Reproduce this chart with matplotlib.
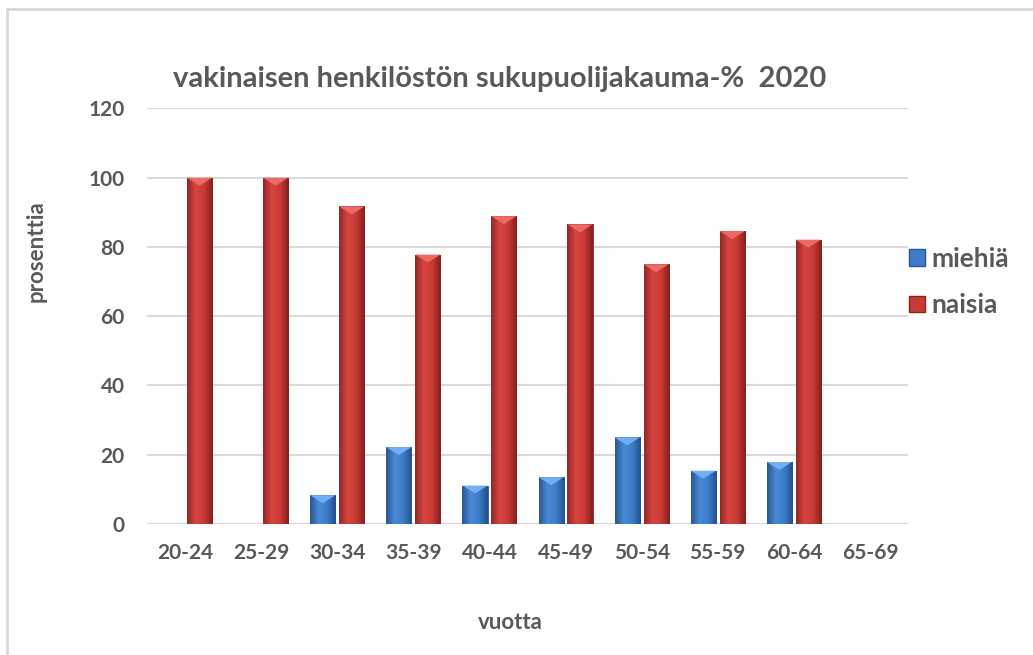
import numpy as np
import matplotlib.pyplot as plt
from matplotlib.patches import Patch, Polygon
from matplotlib.colors import LinearSegmentedColormap
from matplotlib.lines import Line2D

# Age groups and share (%) of permanent staff by gender
ages = ['20-24', '25-29', '30-34', '35-39', '40-44', '45-49',
        '50-54', '55-59', '60-64', '65-69']
miehia = [0, 0, 8.3, 22.2, 11.1, 13.5, 25.0, 15.4, 17.9, 0]
naisia = [100, 100, 91.7, 77.8, 88.9, 86.5, 75.0, 84.6, 82.1, 0]

plt.rcParams['font.family'] = ['Lato', 'DejaVu Sans']
txt = '#595959'

fig = plt.figure(figsize=(10.33, 6.55), dpi=100)
ax = fig.add_axes([0.1423, 0.2, 0.7367, 0.6344])

x = np.arange(len(ages))
w = 0.33
off = 0.19

blue_cm = LinearSegmentedColormap.from_list('b', ['#29578f', '#4a8ad6', '#3d7cc9', '#24508a'])
red_cm = LinearSegmentedColormap.from_list('r', ['#922826', '#d8453f', '#c83a36', '#82201e'])
grad = np.linspace(0, 1, 64).reshape(1, -1)

def fancy(bars, cmap, top_col):
    for b in bars:
        bx, by = b.get_x(), b.get_y()
        bw, bh = b.get_width(), b.get_height()
        if bh <= 0:
            continue
        im = ax.imshow(grad, extent=[bx, bx + bw, by, by + bh], aspect='auto',
                       cmap=cmap, zorder=3, interpolation='bicubic')
        im.set_clip_path(b)
        tri = Polygon([[bx, by + bh], [bx + bw, by + bh], [bx + bw / 2, by + bh - 2.3]],
                      closed=True, facecolor=top_col, edgecolor='none', zorder=4)
        ax.add_patch(tri)

b1 = ax.bar(x - off, miehia, w, color='#3d7cc9', edgecolor='#2a5690', linewidth=0.6, zorder=3)
b2 = ax.bar(x + off, naisia, w, color='#c83a36', edgecolor='#8a2220', linewidth=0.6, zorder=3)
fancy(b1, blue_cm, '#6fb0f2')
fancy(b2, red_cm, '#ec6a66')

ax.set_xlim(-0.5, len(ages) - 0.5)
ax.set_ylim(0, 120)
ax.set_yticks(range(0, 121, 20))
ax.set_xticks(x)
ax.set_xticklabels(ages)
ax.yaxis.grid(True, color='#d9d9d9', linewidth=1.5, zorder=0)
ax.set_axisbelow(True)
for s in ax.spines.values():
    s.set_visible(False)
ax.tick_params(axis='both', length=0, labelsize=15, labelcolor=txt)
ax.tick_params(axis='y', pad=16)
ax.tick_params(axis='x', pad=14)
for lab in ax.get_xticklabels() + ax.get_yticklabels():
    lab.set_fontweight('bold')

ax.text(0.464, 1.0525, 'vakinaisen henkilöstön sukupuolijakauma-%  2020', fontsize=21,
        fontweight='bold', color=txt, ha='center', va='baseline', transform=ax.transAxes)
ax.set_ylabel('prosenttia', fontsize=16, fontweight='bold', color=txt)
ax.yaxis.set_label_coords(-0.1314, 0.657)
ax.set_xlabel('vuotta', fontsize=16, fontweight='bold', color=txt)
ax.xaxis.set_label_coords(0.477, -0.2120)

handles = [Patch(facecolor='#3d7cc9', edgecolor='#2a5690'),
           Patch(facecolor='#c83a36', edgecolor='#8a2220')]
leg = ax.legend(handles, ['miehiä', 'naisia'], loc='center left',
                bbox_to_anchor=(1.0013, 0.582), frameon=False, fontsize=19,
                handlelength=0.6, handleheight=0.6, handletextpad=0.25,
                labelspacing=0.85, borderpad=0, borderaxespad=0)
for t in leg.get_texts():
    t.set_color(txt)
    t.set_fontweight('bold')

# chart frame (top and left only visible in the screenshot)
fig.add_artist(Line2D([7 / 1033, 1], [1 - 9 / 655, 1 - 9 / 655], color='#d9d9d9', linewidth=2,
                      transform=fig.transFigure))
fig.add_artist(Line2D([7 / 1033, 7 / 1033], [0, 1 - 9 / 655], color='#d9d9d9', linewidth=2,
                      transform=fig.transFigure))

fig.savefig('out.png', dpi=100)
